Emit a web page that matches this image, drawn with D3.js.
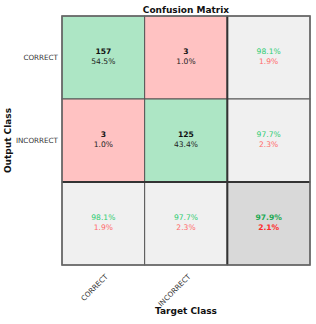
<!DOCTYPE html>
<html>
<head>
<meta charset="utf-8">
<script src="https://cdn.jsdelivr.net/npm/d3@7"></script>
<style>
  body { margin: 0; background: #fff; }
  text { font-family: "DejaVu Sans", sans-serif; }
</style>
</head>
<body>
<div id="chart"></div>
<script>
// class names and confusion counts (rows = output, cols = target)
const classes = ['CORRECT', 'INCORRECT'];
const counts = [
  [157, 3],
  [3, 125]
];

const margin = { top: 16, right: 6, bottom: 59, left: 62 };
const width  = 316 - margin.left - margin.right;
const height = 324 - margin.top  - margin.bottom;

const total = d3.sum(counts.flat());
const fmt = v => (v * 100).toFixed(1) + '%';
const keys = [...classes, 'sum'];

const x = d3.scaleBand().domain(keys).range([0, width]);
const y = d3.scaleBand().domain(keys).range([0, height]);

// build cell table
const cells = [];
keys.forEach((rk, i) => keys.forEach((ck, j) => {
  const c = { row: rk, col: ck, i, j };
  if (i < 2 && j < 2) {
    c.type = i === j ? 'hit' : 'miss';
    c.count = counts[i][j];
    c.pct = fmt(counts[i][j] / total);
  } else if (i < 2) {
    const s = d3.sum(counts[i]);
    c.type = 'side'; c.good = counts[i][i] / s;
  } else if (j < 2) {
    const s = d3.sum(counts, r => r[j]);
    c.type = 'side'; c.good = counts[j][j] / s;
  } else {
    c.type = 'corner'; c.good = d3.sum(classes, (_, k) => counts[k][k]) / total;
  }
  cells.push(c);
}));

const fill = { hit: '#ade6c5', miss: '#ffc2c2', side: '#f0f0f0', corner: '#d9d9d9' };

const svg = d3.select('#chart').append('svg')
    .attr('width',  width  + margin.left + margin.right)
    .attr('height', height + margin.top  + margin.bottom)
  .append('g')
    .attr('transform', `translate(${margin.left},${margin.top})`);

const g = svg.selectAll('g.cell')
  .data(cells)
  .join('g')
    .attr('class', 'cell')
    .attr('transform', d => `translate(${x(d.col)},${y(d.row)})`);

g.append('rect')
  .attr('width', x.bandwidth())
  .attr('height', y.bandwidth())
  .attr('fill', d => fill[d.type])
  .attr('stroke', '#555')
  .attr('stroke-width', 1);

const cx = x.bandwidth() / 2, cy = y.bandwidth() / 2;

g.filter(d => d.count !== undefined).append('text')
  .attr('x', cx).attr('y', cy - 4)
  .attr('text-anchor', 'middle')
  .attr('font-size', 7.6).attr('font-weight', 'bold').attr('fill', '#111')
  .text(d => d.count);
g.filter(d => d.count !== undefined).append('text')
  .attr('x', cx).attr('y', cy + 6.5)
  .attr('text-anchor', 'middle')
  .attr('font-size', 7.6).attr('fill', '#222')
  .text(d => d.pct);

const sides = g.filter(d => d.good !== undefined);
sides.append('text')
  .attr('x', cx).attr('y', cy - 4)
  .attr('text-anchor', 'middle')
  .attr('font-size', 7.6)
  .attr('font-weight', d => d.type === 'corner' ? 'bold' : 'normal')
  .attr('fill', d => d.type === 'corner' ? '#1ea952' : '#2ecc71')
  .text(d => fmt(d.good));
sides.append('text')
  .attr('x', cx).attr('y', cy + 6.5)
  .attr('text-anchor', 'middle')
  .attr('font-size', 7.6)
  .attr('font-weight', d => d.type === 'corner' ? 'bold' : 'normal')
  .attr('fill', d => d.type === 'corner' ? '#ff2a2a' : '#ff6b6b')
  .text(d => fmt(1 - d.good));

// separators before the summary row / column
svg.append('line')
  .attr('x1', x('sum')).attr('x2', x('sum'))
  .attr('y1', 0).attr('y2', height)
  .attr('stroke', '#333').attr('stroke-width', 2);
svg.append('line')
  .attr('x1', 0).attr('x2', width)
  .attr('y1', y('sum')).attr('y2', y('sum'))
  .attr('stroke', '#333').attr('stroke-width', 2);

// outer frame
svg.append('rect')
  .attr('width', width).attr('height', height)
  .attr('fill', 'none').attr('stroke', '#666').attr('stroke-width', 1.5);

// axes
const ay = svg.append('g')
  .call(d3.axisLeft(y).tickValues(classes).tickSize(0).tickPadding(4));
ay.select('.domain').remove();
ay.selectAll('text').attr('font-size', 7.2).attr('fill', '#333')
  .style('font-family', '"DejaVu Sans", sans-serif');

const ax = svg.append('g')
  .attr('transform', `translate(0,${height})`)
  .call(d3.axisBottom(x).tickValues(classes).tickSize(0));
ax.select('.domain').remove();
ax.selectAll('text')
  .attr('font-size', 7.2).attr('fill', '#333')
  .style('font-family', '"DejaVu Sans", sans-serif')
  .attr('text-anchor', 'end')
  .attr('dy', 0)
  .attr('transform', 'translate(3,10) rotate(-45)');

svg.append('text')
  .attr('x', width / 2).attr('y', -3)
  .attr('text-anchor', 'middle')
  .attr('font-size', 9).attr('font-weight', 'bold').attr('fill', '#111')
  .text('Confusion Matrix');

svg.append('text')
  .attr('x', width / 2).attr('y', height + 49)
  .attr('text-anchor', 'middle')
  .attr('font-size', 9).attr('font-weight', 'bold').attr('fill', '#111')
  .text('Target Class');

svg.append('text')
  .attr('transform', `translate(${-51},${height / 2}) rotate(-90)`)
  .attr('text-anchor', 'middle')
  .attr('font-size', 9).attr('font-weight', 'bold').attr('fill', '#111')
  .text('Output Class');
</script>
</body>
</html>
